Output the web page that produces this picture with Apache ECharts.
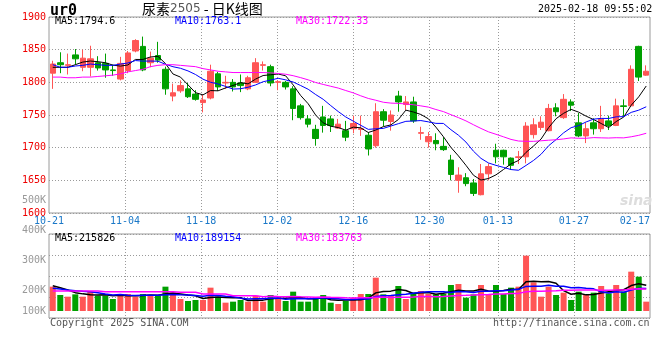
<!DOCTYPE html>
<html><head><meta charset="utf-8">
<script src="https://cdn.jsdelivr.net/npm/echarts@6/dist/echarts.min.js"></script>
<style>html,body{margin:0;padding:0;background:#fff}#c{width:660px;height:360px}</style>
</head><body><div id="c"></div>
<script>
// ---------- data ----------
const dates = ['10-21','10-22','10-23','10-24','10-25','10-28','10-29','10-30','10-31',
 '11-01','11-04','11-05','11-06','11-07','11-08','11-11','11-12','11-13','11-14','11-15',
 '11-18','11-19','11-20','11-21','11-22','11-25','11-26','11-27','11-28','11-29',
 '12-02','12-03','12-04','12-05','12-06','12-09','12-10','12-11','12-12','12-13',
 '12-16','12-17','12-18','12-19','12-20','12-23','12-24','12-25','12-26','12-27','12-30','12-31',
 '01-02','01-03','01-06','01-07','01-08','01-09','01-10','01-13','01-14','01-15','01-16','01-17',
 '01-20','01-21','01-22','01-23','01-24','01-27',
 '02-05','02-06','02-07','02-10','02-11','02-12','02-13','02-14','02-17','02-18'];
const opens  = [1814,1830,1826,1842,1823,1823,1830,1829,1819,1805,1818,1848,1855,1830,1841,1820,1779,1787,1790,1782,
                1769,1776,1813,1799,1800,1799,1790,1800,1826,1824,1800,1800,1790,1764,1744,1728,1747,1744,1730,1726,
                1729,1728,1719,1703,1755,1740,1779,1766,1770,1722,1709,1711,1702,1681,1650,1654,1646,1628,1660,1696,
                1696,1684,1685,1686,1720,1731,1726,1761,1746,1770,1738,1718,1738,1729,1741,1734,1764,1764,1855,1811];
const highs  = [1833,1846,1844,1851,1850,1856,1840,1844,1827,1839,1848,1866,1870,1847,1862,1824,1798,1803,1799,1788,
                1781,1827,1816,1810,1805,1812,1810,1837,1832,1827,1803,1802,1794,1767,1750,1735,1764,1749,1744,1741,
                1749,1749,1724,1768,1759,1757,1787,1779,1778,1732,1724,1722,1716,1689,1670,1661,1652,1675,1676,1706,
                1697,1685,1695,1739,1745,1748,1767,1768,1782,1774,1753,1738,1745,1764,1749,1775,1774,1826,1856,1826];
const lows   = [1790,1814,1812,1827,1817,1809,1818,1807,1810,1803,1814,1846,1817,1823,1830,1781,1771,1784,1776,1772,
                1754,1774,1787,1790,1786,1785,1788,1799,1818,1794,1788,1789,1742,1743,1731,1703,1723,1724,1729,1710,
                1722,1718,1688,1700,1733,1726,1755,1757,1738,1712,1700,1696,1695,1650,1631,1641,1626,1627,1650,1676,
                1674,1666,1675,1676,1714,1727,1725,1748,1744,1756,1716,1707,1720,1724,1727,1733,1748,1763,1802,1810];
const closes = [1828,1827,1827,1836,1837,1836,1822,1819,1818,1829,1845,1864,1819,1837,1834,1790,1784,1795,1778,1774,
                1773,1817,1793,1800,1793,1795,1807,1830,1827,1799,1801,1793,1760,1746,1736,1714,1734,1734,1736,1716,
                1737,1729,1698,1755,1742,1750,1770,1770,1741,1723,1717,1706,1697,1659,1658,1645,1630,1660,1671,1686,
                1686,1673,1686,1733,1735,1739,1760,1755,1774,1765,1718,1729,1729,1744,1734,1764,1763,1820,1808,1817];
const volumes = [206800,151800,140800,156200,140800,173800,147400,147400,125400,158400,
                 158400,140800,158400,145200,145200,206800,167200,125400,112200,118800,
                 118800,200200,140800,101200,107800,118800,107800,147400,107800,151800,
                 134200,112200,173800,107800,107800,134200,151800,101200,92400,112200,
                 134200,158400,158400,266200,156200,147400,211200,125400,167200,178200,
                 158400,156200,158400,217800,224400,134200,156200,217800,158400,217800,
                 158400,200200,206800,411400,235400,140800,206800,151800,167200,118800,
                 173800,151800,167200,211200,162800,217800,173800,305800,272800,107800];
// moving-average values before a full window exists
const priceMa5Lead  = [1823,1823,1823,1827];
const priceMa10Lead = [1827,1823,1823,1825,1826,1828,1827,1826,1826];
const priceMa30Lead = [1808,1808,1807,1807,1808,1808,1809,1810,1811,1813,1816,1818,1820,1824,1826,
                       1827,1827,1826,1825,1824,1821,1819,1817,1816,1815,1815,1815,1815,1815];
const volMa5Lead  = [213400,200000,184800,167200];
const volMa10Lead = [195800,191400,184800,180400,176000,173800,167200,158400,151800];
const volMa30Lead = [178200,178200,178200,178200,178200,178200,178200,173800,173800,173800,
                     173800,173800,173800,173800,173800,173800,173800,169400,169400,169400,
                     158400,158400,158400,158400,147400,147400,147400,147400,140800];
const tickLabels = ['10-21','11-04','11-18','12-02','12-16','12-30','01-13','01-27','02-17'];
const priceTicks = [1600,1650,1700,1750,1800,1850,1900];
const volumeTicks = [100000,200000,300000,400000,500000];
const legendPrice = ['MA5:1794.6','MA10:1763.1','MA30:1722.33'];
const legendVolume = ['MA5:215826','MA10:189154','MA30:183763'];

// ---------- helpers ----------
function movingAverage(vals, n, lead){
  return vals.map((v,i)=>{
    if(i < n-1) return lead[i];
    let s=0; for(let k=i-n+1;k<=i;k++) s+=vals[k];
    return +(s/n).toFixed(2);
  });
}
const gridDates = tickLabels.slice(1,-1);
const MONO = 'DejaVu Sans Mono';
const RED = '#ff5555', GREEN = '#00a000';
const GRIDC = '#9a9a9a';
const L = 49, R = 10;
const dotted = {color: GRIDC, width: 1, type: [1,2]};

const chart = echarts.init(document.getElementById('c'), null, {renderer:'canvas'});
const txt = (text, left, top, color) => ({
  text, left, top, padding:0,
  textStyle:{fontFamily:MONO, fontSize:10, fontWeight:'normal', color}
});

chart.setOption({
  animation:false,
  backgroundColor:'#fff',
  title:[
    {text:'ur0', left:50, top:4, padding:0, textStyle:{fontFamily:MONO, fontSize:15, fontWeight:'bold', color:'#000'}},
    {text:'{a|尿素}{b|2505}{a| - 日K线图}', left:142, top:2, padding:0,
     textStyle:{fontWeight:'normal', rich:{a:{fontFamily:'Noto Sans CJK SC', fontSize:14, fontWeight:'normal', color:'#000'},
                      b:{fontFamily:'DejaVu Sans', fontSize:12, fontWeight:'normal', color:'#555'}}}},
    txt('2025-02-18 09:55:02', 538, 4, '#000'),
    txt(legendPrice[0], 55, 16, '#000'),
    txt(legendPrice[1], 175, 16, '#0000ff'),
    txt(legendPrice[2], 296, 16, '#ff00ff'),
    txt(legendVolume[0], 55, 233, '#000'),
    txt(legendVolume[1], 175, 233, '#0000ff'),
    txt(legendVolume[2], 296, 233, '#ff00ff'),
    txt('Copyright 2025 SINA.COM', 50, 318, '#555'),
    txt('http://finance.sina.com.cn', 493, 318, '#555'),
    {text:'sina', left:620, top:194, padding:0, textStyle:{fontFamily:'DejaVu Sans', fontSize:14, fontStyle:'italic', fontWeight:'bold', color:'#dddddd'}}
  ],
  grid:[
    {left:L, right:R, top:17, height:196, show:true, borderColor:GRIDC, borderWidth:1},
    {left:L, right:R, top:234, height:77},
    {left:L, right:R, top:234, height:84, show:true, borderColor:GRIDC, borderWidth:1},
    {left:L, right:R, top:200, height:120}
  ],
  xAxis:[
    {gridIndex:0, type:'category', data:dates, boundaryGap:true, show:false},
    {gridIndex:0, type:'category', data:dates, boundaryGap:false, position:'bottom',
     axisLine:{show:false}, axisTick:{show:false},
     axisLabel:{interval:(i,v)=>tickLabels.includes(v), margin:3, color:'#1a78c8', fontFamily:MONO, fontSize:10,
       formatter:(v)=> v===tickLabels[tickLabels.length-1] ? '{r|'+v+'}' : v,
       rich:{r:{padding:[0,15,0,0], color:'#1a78c8', fontFamily:MONO, fontSize:10}}},
     splitLine:{show:true, interval:(i,v)=>gridDates.includes(v), lineStyle:dotted}},
    {gridIndex:1, type:'category', data:dates, boundaryGap:true, show:false},
    {gridIndex:2, type:'category', data:dates, boundaryGap:false,
     axisLine:{show:false}, axisTick:{show:false}, axisLabel:{show:false},
     splitLine:{show:true, interval:(i,v)=>gridDates.includes(v), lineStyle:dotted}},
    {gridIndex:3, type:'category', data:dates, show:false}
  ],
  yAxis:[
    {gridIndex:0, type:'value', min:priceTicks[0], max:priceTicks[priceTicks.length-1], interval:priceTicks[1]-priceTicks[0],
     axisLine:{show:false}, axisTick:{show:false},
     axisLabel:{color:'#ee0000', fontFamily:MONO, fontSize:10, margin:3, formatter:(v)=>String(v)},
     splitLine:{show:true, lineStyle:dotted}},
    {gridIndex:1, type:'value', min:46200, max:554400, show:false},
    {gridIndex:2, type:'value', min:0, max:4, interval:1,
     axisLine:{show:false}, axisTick:{show:false}, axisLabel:{show:false},
     splitLine:{show:true, lineStyle:dotted}},
    {gridIndex:3, type:'value', min:volumeTicks[0], max:volumeTicks[volumeTicks.length-1], interval:volumeTicks[1]-volumeTicks[0],
     axisLine:{show:false}, axisTick:{show:false}, splitLine:{show:false},
     axisLabel:{margin:3, color:'#999', fontFamily:MONO, fontSize:10,
       formatter:(v)=> v===volumeTicks[0] ? '{u|'+(v/1000)+'K}' : (v/1000)+'K',
       rich:{u:{padding:[0,0,18,0], color:'#999', fontFamily:MONO, fontSize:10}}}}
  ],
  series:[
    {type:'candlestick', xAxisIndex:0, yAxisIndex:0, barWidth:6,
     data: dates.map((d,i)=>[opens[i], closes[i], lows[i], highs[i]]),
     itemStyle:{color:RED, color0:GREEN, borderColor:RED, borderColor0:GREEN, borderWidth:1}},
    {type:'line', xAxisIndex:0, yAxisIndex:0, data:movingAverage(closes,5,priceMa5Lead), showSymbol:false, symbol:'none', lineStyle:{color:'#000', width:1}},
    {type:'line', xAxisIndex:0, yAxisIndex:0, data:movingAverage(closes,10,priceMa10Lead), showSymbol:false, symbol:'none', lineStyle:{color:'#0000ff', width:1}},
    {type:'line', xAxisIndex:0, yAxisIndex:0, data:movingAverage(closes,30,priceMa30Lead), showSymbol:false, symbol:'none', lineStyle:{color:'#ff00ff', width:1}},
    {type:'bar', xAxisIndex:2, yAxisIndex:1, data:volumes, barWidth:6, clip:true,
     itemStyle:{color:(p)=> closes[p.dataIndex] >= opens[p.dataIndex] ? RED : GREEN}},
    {type:'line', xAxisIndex:2, yAxisIndex:1, data:movingAverage(volumes,5,volMa5Lead), showSymbol:false, symbol:'none', lineStyle:{color:'#000', width:1.5}},
    {type:'line', xAxisIndex:2, yAxisIndex:1, data:movingAverage(volumes,10,volMa10Lead), showSymbol:false, symbol:'none', lineStyle:{color:'#0000ff', width:1.5}},
    {type:'line', xAxisIndex:2, yAxisIndex:1, data:movingAverage(volumes,30,volMa30Lead), showSymbol:false, symbol:'none', lineStyle:{color:'#ff00ff', width:1.5}}
  ]
});
</script>
</body></html>
